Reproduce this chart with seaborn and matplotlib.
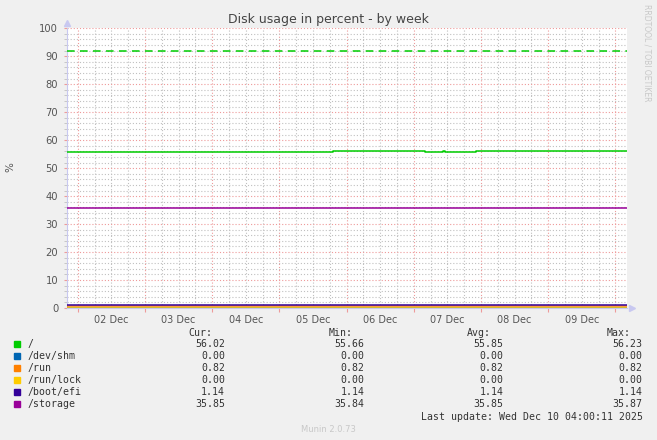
import pandas as pd
import matplotlib
matplotlib.use('Agg')
import matplotlib.pyplot as plt
import matplotlib.dates as mdates
from matplotlib.ticker import MultipleLocator, FuncFormatter, NullFormatter
import seaborn as sns

# --- data ---
start = '2025-12-01 20:00'
end = '2025-12-10 04:00'

root_times = ['2025-12-01 20:00', '2025-12-05 19:00', '2025-12-07 04:00', '2025-12-07 10:25',
              '2025-12-07 11:00', '2025-12-07 22:25', '2025-12-10 04:00']
root_values = [55.67, 56.02, 55.67, 56.02, 55.67, 56.02, 56.02]

names = ['/', '/dev/shm', '/run', '/run/lock', '/boot/efi', '/storage']
colors = ['#00CC00', '#0066B3', '#FF8000', '#FFCC00', '#330099', '#990099']
levels = [None, 0.0, 0.82, 0.0, 1.14, 35.85]
cur = ['56.02', '0.00', '0.82', '0.00', '1.14', '35.85']
mins = ['55.66', '0.00', '0.82', '0.00', '1.14', '35.84']
avgs = ['55.85', '0.00', '0.82', '0.00', '1.14', '35.85']
maxs = ['56.23', '0.00', '0.82', '0.00', '1.14', '35.87']
warning = 92

W, H = 657, 440
fig = plt.figure(figsize=(W / 100, H / 100), dpi=100, facecolor='#F0F0F0')
ax = fig.add_axes([66.5 / W, (H - 308) / H, 560 / W, 279.7 / H])
ax.set_facecolor('white')

GRID_RED = '#EE9A9A'
GRID_GREY = '#C0C0C0'
AXIS_COL = '#C8C8F0'
TXT = '#555555'

for name, color, level in zip(names, colors, levels):
    if level is None:
        df = pd.DataFrame({'t': pd.to_datetime(root_times), 'v': root_values})
    else:
        df = pd.DataFrame({'t': pd.to_datetime([start, end]), 'v': [level, level]})
    sns.lineplot(data=df, x='t', y='v', color=color, lw=1.1, drawstyle='steps-post',
                 estimator=None, ax=ax, zorder=3)

ax.axhline(warning, color='#00CC00', lw=1.1, ls=(0, (5, 3.5)), zorder=3)

ax.set_xlim(pd.Timestamp(start), pd.Timestamp(end))
ax.set_ylim(0, 100)

# x axis: red at midnight, grey every 6h, labels at noon
ax.xaxis.set_major_locator(mdates.DayLocator())
ax.xaxis.set_major_formatter(NullFormatter())
ax.xaxis.set_minor_locator(mdates.HourLocator(byhour=[6, 12, 18]))
ax.xaxis.set_minor_formatter(FuncFormatter(
    lambda x, pos: mdates.num2date(x).strftime('%d %b') if mdates.num2date(x).hour == 12 else ''))
ax.yaxis.set_major_locator(MultipleLocator(10))
ax.yaxis.set_minor_locator(MultipleLocator(2))

ax.grid(which='major', color=GRID_RED, ls=(0, (1, 1.8)), lw=0.8, zorder=1)
ax.grid(which='minor', color=GRID_GREY, ls=(0, (1, 1.8)), lw=0.8, zorder=1)
ax.set_axisbelow(True)

ax.tick_params(axis='x', which='major', length=3, color=GRID_RED, direction='out')
ax.tick_params(axis='x', which='minor', length=0, pad=5, labelsize=7, labelcolor=TXT)
ax.tick_params(axis='y', which='major', length=2, color=GRID_RED, pad=4, labelsize=7.2, labelcolor=TXT)
ax.tick_params(axis='y', which='minor', length=2, color=GRID_GREY)

for s in ['top', 'right']:
    ax.spines[s].set_visible(False)
for s in ['left', 'bottom']:
    ax.spines[s].set_color(AXIS_COL)
    ax.spines[s].set_linewidth(0.8)
ax.plot([0], [1.02], marker='^', ms=4, color=AXIS_COL, transform=ax.transAxes, clip_on=False)
ax.plot([1.01], [0], marker='>', ms=4, color=AXIS_COL, transform=ax.transAxes, clip_on=False)

ax.set_xlabel('')
ax.set_ylabel('')
fig.text(10 / W, 1 - 167 / H, '%', rotation=90, ha='center', va='center', fontsize=7.5, color=TXT)
fig.text(328 / W, 1 - 19 / H, 'Disk usage in percent - by week', ha='center', va='center',
         fontsize=9, color='#444444')
fig.text(647 / W, 1 - 53 / H, 'RRDTOOL / TOBI OETIKER', rotation=270, ha='center', va='center',
         fontsize=5.5, color='#C8C8C8')
fig.text(328 / W, 1 - 429 / H, 'Munin 2.0.73', ha='center', va='center', fontsize=6, color='#C8C8C8')

# legend table
mono = dict(family='DejaVu Sans Mono', fontsize=7.15, color='#333333', va='center')
col_right = [225, 364.7, 503.7, 642.7]
headers = ['Cur:', 'Min:', 'Avg:', 'Max:']
for xr, h in zip(col_right, headers):
    fig.text((xr - 12.5) / W, 1 - 332.7 / H, h, ha='right', **mono)
for i, name in enumerate(names):
    y = 1 - (344.3 + 12 * i) / H
    fig.patches.append(plt.Rectangle((14 / W, y - 3 / H), 6 / W, 6 / H, color=colors[i],
                                     transform=fig.transFigure, figure=fig))
    fig.text(27 / W, y, name, ha='left', **mono)
    for xr, val in zip(col_right, [cur[i], mins[i], avgs[i], maxs[i]]):
        fig.text(xr / W, y, val, ha='right', **mono)
fig.text(642.7 / W, 1 - 416.7 / H, 'Last update: Wed Dec 10 04:00:11 2025', ha='right', **mono)

fig.savefig('out.png', dpi=100, facecolor=fig.get_facecolor())
